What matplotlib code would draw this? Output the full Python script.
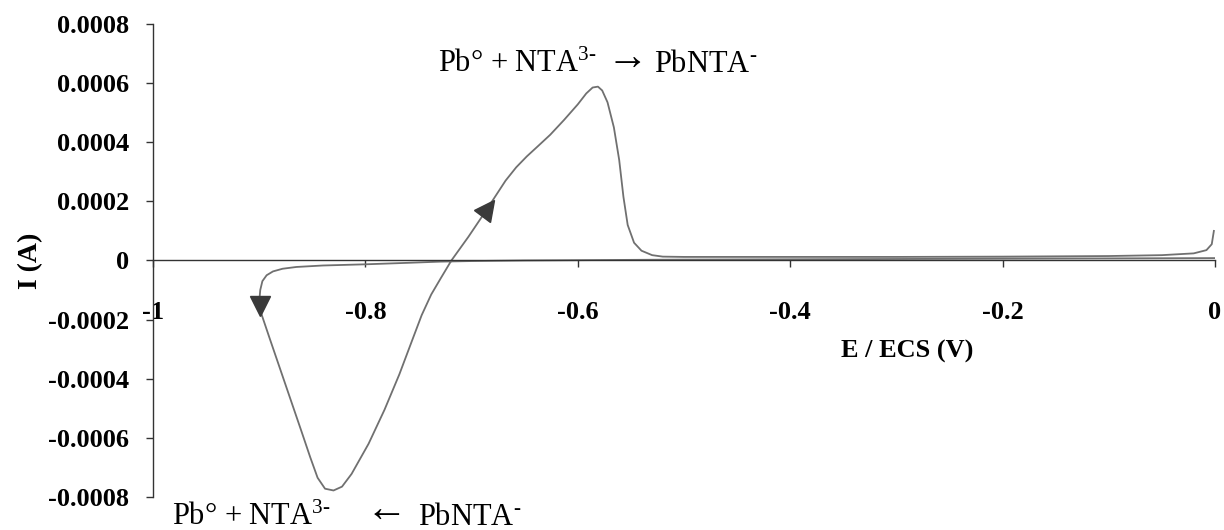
import matplotlib
matplotlib.use("Agg")
import matplotlib.pyplot as plt
import numpy as np
from matplotlib.markers import MarkerStyle
from matplotlib.transforms import Affine2D

plt.rcParams['font.family'] = ['Liberation Serif', 'DejaVu Serif']
plt.rcParams['mathtext.fontset'] = 'custom'
plt.rcParams['mathtext.rm'] = 'Liberation Serif'
plt.rcParams['mathtext.it'] = 'Liberation Serif:italic'
plt.rcParams['mathtext.bf'] = 'Liberation Serif:bold'
plt.rcParams['axes.unicode_minus'] = False

# cathodic sweep along the baseline, 0 V -> -0.9 V
cath_E = [0.0, -0.1, -0.2, -0.3, -0.4, -0.5, -0.55, -0.6, -0.65, -0.7, -0.73,
          -0.76, -0.80, -0.84, -0.865, -0.878, -0.887, -0.893, -0.897, -0.899]
cath_I = [0.000008, 0.000007, 0.000006, 0.000005, 0.000004, 0.000003, 0.000002,
          0.000001, 0.0, -0.000002, -0.000004, -0.000008, -0.000013, -0.000017,
          -0.000022, -0.000028, -0.000037, -0.00005, -0.00007, -0.0001]

# reduction wave then re-oxidation (stripping) peak
loop_E = [-0.9, -0.898, -0.89, -0.88, -0.87, -0.86, -0.852, -0.845, -0.838,
          -0.83, -0.822, -0.813, -0.797, -0.782, -0.768, -0.757, -0.747, -0.738,
          -0.729, -0.719, -0.703, -0.688, -0.678, -0.668, -0.658, -0.648, -0.638,
          -0.626, -0.613, -0.6, -0.592, -0.586, -0.581, -0.577, -0.572, -0.566,
          -0.561, -0.557, -0.553, -0.547, -0.54, -0.53, -0.52]
loop_I = [-0.00014, -0.00018, -0.000265, -0.00037, -0.000475, -0.00058,
          -0.000665, -0.000735, -0.000772, -0.000778, -0.000765, -0.000722,
          -0.00062, -0.000505, -0.000385, -0.00028, -0.000185, -0.000115,
          -0.00006, 0.0, 0.00008, 0.00016, 0.000215, 0.00027, 0.000315,
          0.000352, 0.000385, 0.000425, 0.000475, 0.000528, 0.000565, 0.000585,
          0.000588, 0.000575, 0.000535, 0.00045, 0.00034, 0.000215, 0.00012,
          0.00006, 0.000033, 0.000018, 0.000013]

# return baseline up to 0 V
back_E = [-0.5, -0.4, -0.3, -0.2, -0.1, -0.05, -0.02, -0.008, -0.003, -0.001]
back_I = [0.000012, 0.000012, 0.000012, 0.000013, 0.000015, 0.000018, 0.000024,
          0.000035, 0.000055, 0.0001]

# direction arrows on the curve
arrow_E = [-0.899, -0.6845]
arrow_I = [-0.000155, 0.000178]
arrow_rot = [180, -35]

E = np.array(cath_E + loop_E + back_E)
I = np.array(cath_I + loop_I + back_I)

fig = plt.figure(figsize=(12.24, 5.30), dpi=100)
ax = fig.add_axes([0.125, 0.0623, 0.8676, 0.8925])

ax.plot(E, I, color='#707070', lw=1.3)
for e, i, r in zip(arrow_E, arrow_I, arrow_rot):
    m = MarkerStyle('^', transform=Affine2D().rotate_deg(r))
    ax.plot(e, i, marker=m, ms=14, color='#3a3a3a', mec='#3a3a3a')

ax.set_xlim(-1, 0)
ax.set_ylim(-0.0008, 0.0008)
ax.spines['top'].set_visible(False)
ax.spines['right'].set_visible(False)
ax.spines['bottom'].set_position(('data', 0))
for s in ('left', 'bottom'):
    ax.spines[s].set_color('#333333')
    ax.spines[s].set_linewidth(1.0)

xt = [-1, -0.8, -0.6, -0.4, -0.2, 0]
yt = [-0.0008, -0.0006, -0.0004, -0.0002, 0, 0.0002, 0.0004, 0.0006, 0.0008]
ax.set_xticks(xt)
ax.set_xticklabels(['-1', '-0.8', '-0.6', '-0.4', '-0.2', '0'])
ax.set_yticks(yt)
ax.set_yticklabels(['0' if v == 0 else f'{v:.4f}' for v in yt])
ax.tick_params(axis='x', direction='out', length=5, width=1, color='#333333',
               pad=24, labelsize=19)
ax.tick_params(axis='y', direction='out', length=5, width=1, color='#333333',
               pad=12, labelsize=19)
for lab in ax.get_xticklabels() + ax.get_yticklabels():
    lab.set_fontweight('bold')

ax.set_ylabel('I (A)', fontsize=20, fontweight='bold')
ax.yaxis.set_label_coords(-0.103, 0.5)
ax.text(0.71, 0.307, 'E / ECS (V)', transform=ax.transAxes, fontsize=19,
        fontweight='bold', ha='center', va='center')

# reaction labels: left side, arrow, right side (pixel anchors / figure size)
W, H = 1224, 530
left_txt = r'Pb° + NTA$^{\mathrm{3}\text{-}}$'
right_txt = r'PbNTA$^{\text{-}}$'
fig.text(438 / W, 1 - 72 / H, left_txt, fontsize=22, ha='left', va='baseline')
fig.text(627 / W, 1 - 69 / H, '→', fontsize=30, ha='center', va='baseline')
fig.text(654 / W, 1 - 72 / H, right_txt, fontsize=22, ha='left', va='baseline')

fig.text(172 / W, 1 - 525 / H, left_txt, fontsize=22, ha='left', va='baseline')
fig.text(386 / W, 1 - 521 / H, '←', fontsize=30, ha='center', va='baseline')
fig.text(418 / W, 1 - 525 / H, right_txt, fontsize=22, ha='left', va='baseline')

fig.savefig('out.png', dpi=100)
